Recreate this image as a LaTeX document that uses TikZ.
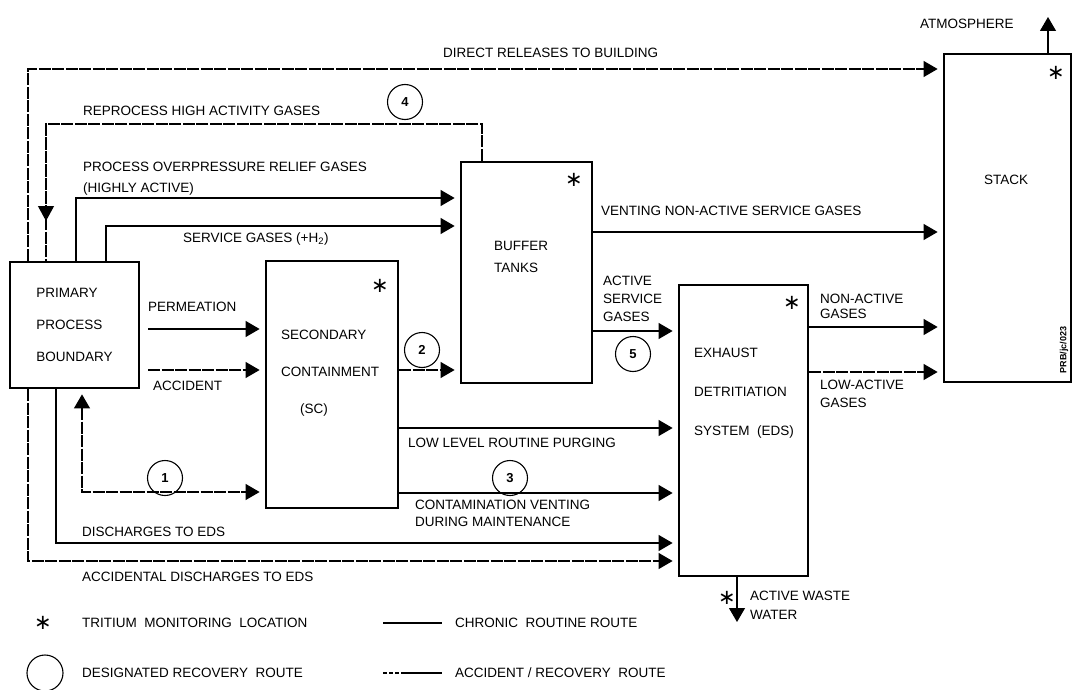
\documentclass[tikz,border=0pt]{standalone}
\usepackage{fontspec}
\setmainfont{Liberation Sans}
\newfontfamily\djv{DejaVu Sans}
\usetikzlibrary{arrows.meta}
\begin{document}
\begin{tikzpicture}[x=1pt,y=-1pt,
  box/.style={draw, line width=2.8pt, inner sep=0pt},
  txt/.style={font=\fontsize{13.5}{16}\selectfont, inner sep=0pt, align=left},
  route/.style={line width=1.1pt},
  acc/.style={dash pattern=on 12pt off 1.5pt},
  arr/.style={-{Triangle[length=14pt,width=16pt]}, shorten >=5pt},
  star/.style={font=\djv\fontsize{21}{21}\selectfont, inner sep=0pt},
  rec/.style={draw, line width=1.1pt, circle, minimum size=35pt, inner sep=0pt, font=\fontsize{13}{13}\selectfont\bfseries}
]
\useasboundingbox (0,0) rectangle (1073,690);

% boxes
\node[box, minimum width=129pt, minimum height=126pt, align=left,
      font=\fontsize{13.5}{32}\selectfont] (ppb) at (74.5,325) {PRIMARY\\PROCESS\\BOUNDARY};
\node[box, minimum width=132pt, minimum height=247pt] (sc) at (332,384.5) {};
\node[box, minimum width=131pt, minimum height=221pt] (buf) at (526.5,272.5) {};
\node[box, minimum width=129pt, minimum height=291pt] (eds) at (743.5,430.5) {};
\node[box, minimum width=127pt, minimum height=328pt] (stack) at (1007.5,218) {};

% box texts
\node[txt, anchor=west, font=\fontsize{13.5}{37}\selectfont] (sctxt) at (281,373) {SECONDARY\\CONTAINMENT\\\hspace*{19pt}(SC)};
\node[txt, anchor=west, font=\fontsize{13.5}{22}\selectfont] (buftxt) at (494,257) {BUFFER\\TANKS};
\node[txt, anchor=west, font=\fontsize{13.5}{39}\selectfont] (edstxt) at (694,393) {EXHAUST\\DETRITIATION\\SYSTEM\ \ (EDS)};
\node[txt] (stacktxt) at (1006,180) {STACK};
\node[rotate=90, inner sep=0pt, font=\fontsize{9}{9}\selectfont\bfseries] (ref) at (1064,350) {PRB/jc/023};

% monitoring stars
\node[star] (s1) at (380,286) {∗};
\node[star] (s2) at (574,180) {∗};
\node[star] (s3) at (792,303) {∗};
\node[star] (s4) at (1056,73) {∗};
\node[star] (s5) at (727,598) {∗};

% recovery circles
\node[rec] (c1) at (165,478) {1};
\node[rec] (c2) at (422,350) {2};
\node[rec] (c3) at (510,478) {3};
\node[rec] (c4) at (405,102) {4};
\node[rec] (c5) at (633,354) {5};

% connectors
\draw[route,acc,arr] (ppb.north -| 28,0) -- (28,69) -- (stack.west |- 0,69);
\draw[route,acc] (buf.north -| 482,0) -- (482,124) -- (46,124) -- (ppb.north -| 46,0);
\coordinate (rpA) at (46,124);
\coordinate (rpB) at (46,221);
\draw[route,acc,-{Triangle[length=15pt,width=16pt]}] (rpA) -- (rpB);
\draw[route,arr] (ppb.north -| 76,0) -- (76,198) -- (buf.west |- 0,198);
\draw[route,arr] (ppb.north -| 106,0) -- (106,226) -- (buf.west |- 0,226);
\coordinate (permS) at (148,329);
\draw[route,arr] (permS) -- (sc.west |- permS);
\coordinate (accS) at (148,370);
\draw[route,acc,arr] (accS) -- (sc.west |- accS);
\draw[route,acc,{Triangle[length=14pt,width=16pt]}-{Triangle[length=14pt,width=16pt]}, shorten <=5pt, shorten >=5pt]
  (ppb.south -| 82,0) -- (82,492) -- (sc.west |- 0,492);
\draw[route,acc,arr] (sc.east |- 0,370) -- (buf.west |- 0,370);
\draw[route,arr] (sc.east |- 0,428) -- (eds.west |- 0,428);
\draw[route,arr] (sc.east |- 0,493) -- (eds.west |- 0,493);
\draw[route,arr] (ppb.south -| 56,0) -- (56,543) -- (eds.west |- 0,543);
\draw[route,acc,arr] (ppb.south -| 28,0) -- (28,561) -- (eds.west |- 0,561);
\draw[route,arr] (buf.east |- 0,232) -- (stack.west |- 0,232);
\draw[route,arr] (buf.east |- 0,331) -- (eds.west |- 0,331);
\draw[route,arr] (eds.east |- 0,327) -- (stack.west |- 0,327);
\draw[route,acc,arr] (eds.east |- 0,372) -- (stack.west |- 0,372);
\coordinate (atm) at (1048,17);
\draw[route,arr,shorten >=0pt] (stack.north -| atm) -- (atm);
\coordinate (waste) at (737,622);
\draw[route,arr,shorten >=0pt] (eds.south -| waste) -- (waste);

% labels
\node[txt, anchor=west] (l1) at (443,53) {DIRECT RELEASES TO BUILDING};
\node[txt, anchor=west] (l2) at (83,111) {REPROCESS HIGH ACTIVITY GASES};
\node[txt, anchor=west, font=\fontsize{13.5}{21}\selectfont] (l3) at (83,178.5) {PROCESS OVERPRESSURE RELIEF GASES\\(HIGHLY ACTIVE)};
\node[txt, anchor=west] (l4) at (183,239) {SERVICE GASES (+H\textsubscript{2})};
\node[txt, anchor=west] (l5) at (601,211) {VENTING NON-ACTIVE SERVICE GASES};
\node[txt, anchor=west, font=\fontsize{13.5}{18}\selectfont] (l6) at (603,299) {ACTIVE\\SERVICE\\GASES};
\node[txt, anchor=west] (l7) at (148,307) {PERMEATION};
\node[txt, anchor=west] (l8) at (153,386) {ACCIDENT};
\node[txt, anchor=west] (l9) at (408,443) {LOW LEVEL ROUTINE PURGING};
\node[txt, anchor=west, font=\fontsize{13.5}{17}\selectfont] (l10) at (415,513.5) {CONTAMINATION VENTING\\DURING MAINTENANCE};
\node[txt, anchor=west] (l11) at (82,532) {DISCHARGES TO EDS};
\node[txt, anchor=west] (l12) at (82,577) {ACCIDENTAL DISCHARGES TO EDS};
\node[txt, anchor=west, font=\fontsize{13.5}{15}\selectfont] (l13) at (820,306) {NON-ACTIVE\\GASES};
\node[txt, anchor=west, font=\fontsize{13.5}{18}\selectfont] (l14) at (820,394) {LOW-ACTIVE\\GASES};
\node[txt, anchor=west, font=\fontsize{13.5}{19}\selectfont] (l15) at (750,605.5) {ACTIVE WASTE\\WATER};
\node[txt, anchor=west] (l16) at (920,24) {ATMOSPHERE};

% legend
\node[star] (lgstar) at (43,623) {∗};
\node[txt, anchor=west] (lgt1) at (82,623) {TRITIUM\ \ MONITORING\ \ LOCATION};
\coordinate (lg1a) at (383,623);
\coordinate (lg1b) at (442,623);
\draw[route] (lg1a) -- (lg1b);
\node[txt, anchor=west] (lgt2) at (455,623) {CHRONIC\ \ ROUTINE ROUTE};
\node[draw, line width=1.1pt, circle, minimum size=36pt, inner sep=0pt] (lgcirc) at (45,673) {};
\node[txt, anchor=west] (lgt3) at (82,673) {DESIGNATED\ RECOVERY\ \ ROUTE};
\coordinate (lg2a) at (383,673);
\coordinate (lg2b) at (442,673);
\draw[route,dash pattern=on 4pt off 2pt on 4pt off 2pt on 4pt off 2pt on 40pt off 0pt] (lg2a) -- (lg2b);
\node[txt, anchor=west] (lgt4) at (455,673) {ACCIDENT / RECOVERY\ \ ROUTE};
\end{tikzpicture}
\end{document}
